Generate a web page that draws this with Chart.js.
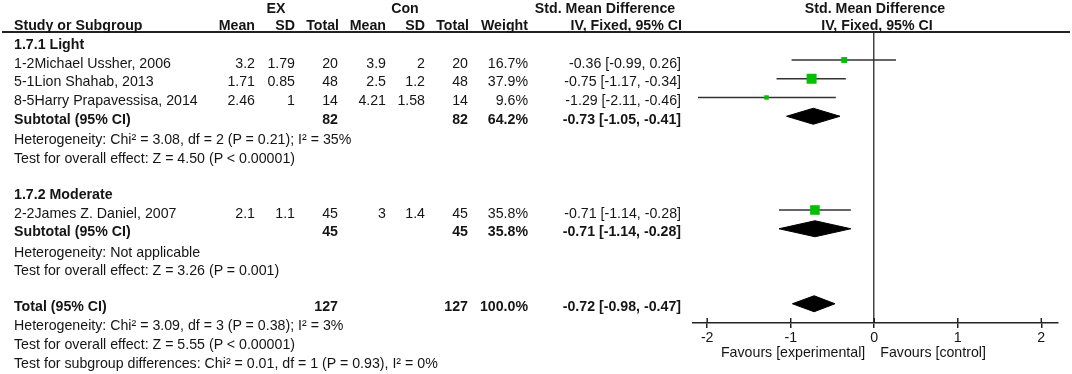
<!DOCTYPE html>
<html>
<head>
<meta charset="utf-8">
<script src="https://cdn.jsdelivr.net/npm/chart.js@4.4.1/dist/chart.umd.min.js"></script>
<style>
body { margin: 0; background: #fff; }
#wrap { position: relative; width: 1072px; height: 374px; font-family: "Liberation Sans", Arial, sans-serif; font-size: 14.2px; color: #151515; }
#wrap canvas { position: absolute; left: 0; top: 0; }
.t { position: absolute; white-space: nowrap; line-height: 16px; }
.b { font-weight: bold; }
#hline { position: absolute; left: 2px; top: 31px; width: 1068px; height: 2px; background: #222; }
</style>
</head>
<body>
<div id="wrap">
  <canvas id="forest" width="1072" height="374"></canvas>
  <div id="hline"></div>
</div>
<script>
// --- Data ---
const subgroups = ['1.7.1 Light', '1.7.2 Moderate'];
const studies = ['1-2Michael Ussher, 2006', '5-1Lion Shahab, 2013', '8-5Harry Prapavessisa, 2014', '2-2James Z. Daniel, 2007'];
const studyGroup = [0, 0, 0, 1];
const exMean = [3.2, 1.71, 2.46, 2.1];
const exSD = [1.79, 0.85, 1, 1.1];
const exN = [20, 48, 14, 45];
const conMean = [3.9, 2.5, 4.21, 3];
const conSD = [2, 1.2, 1.58, 1.4];
const conN = [20, 48, 14, 45];
const weight = [16.7, 37.9, 9.6, 35.8];
const smd = [-0.36, -0.75, -1.29, -0.71];
const ciLo = [-0.99, -1.17, -2.11, -1.14];
const ciHi = [0.26, -0.34, -0.46, -0.28];

// subtotals per subgroup
const subExN = [82, 45];
const subConN = [82, 45];
const subWeight = [64.2, 35.8];
const subSmd = [-0.73, -0.71];
const subLo = [-1.05, -1.14];
const subHi = [-0.41, -0.28];
const subHet = ['Heterogeneity: Chi² = 3.08, df = 2 (P = 0.21); I² = 35%', 'Heterogeneity: Not applicable'];
const subTest = ['Test for overall effect: Z = 4.50 (P < 0.00001)', 'Test for overall effect: Z = 3.26 (P = 0.001)'];

// overall
const totalExN = 127;
const totalConN = 127;
const totalWeight = 100.0;
const totalSmd = -0.72;
const totalLo = -0.98;
const totalHi = -0.47;
const totalNotes = [
  'Heterogeneity: Chi² = 3.09, df = 3 (P = 0.38); I² = 3%',
  'Test for overall effect: Z = 5.55 (P < 0.00001)',
  'Test for subgroup differences: Chi² = 0.01, df = 1 (P = 0.93), I² = 0%'
];

const xTicks = [-2, -1, 0, 1, 2];
const favourLabels = ['Favours [experimental]', 'Favours [control]'];

// --- Layout ---
const W = 1072;
const ROW0 = 41.25;   // pixel of row 0
const ROW_H = 18.75;  // row height
const PLOT_TOP = 32, PLOT_BOTTOM = 323;
const DIAMOND_H = 8 / ROW_H;
const colRight = { exMean: 255, exSD: 295, exN: 338, conMean: 386, conSD: 425, conN: 468, weight: 528, ci: 681 };

const wrap = document.getElementById('wrap');

function addText(txt, x, y, align, bold) {
  const d = document.createElement('div');
  d.className = 't' + (bold ? ' b' : '');
  d.textContent = txt;
  d.style.top = (y - 8) + 'px';
  if (align === 'right') {
    d.style.right = (W - x) + 'px';
  } else if (align === 'center') {
    d.style.left = (x - 150) + 'px';
    d.style.width = '300px';
    d.style.textAlign = 'center';
  } else {
    d.style.left = x + 'px';
  }
  wrap.appendChild(d);
}

const ciText = (e, l, h) => `${e.toFixed(2)} [${l.toFixed(2)}, ${h.toFixed(2)}]`;
const textY = k => ROW0 + ROW_H * k + 2.5;

// headers
addText('EX', 276, 8, 'center', true);
addText('Con', 405, 8, 'center', true);
addText('Std. Mean Difference', 605, 8, 'center', true);
addText('Std. Mean Difference', 875, 8, 'center', true);
addText('Study or Subgroup', 14, 25, 'left', true);
[['Mean', 255], ['SD', 295], ['Total', 339], ['Mean', 386], ['SD', 425], ['Total', 469], ['Weight', 528], ['IV, Fixed, 95% CI', 682]]
  .forEach(h => addText(h[0], h[1], 25, 'right', true));
addText('IV, Fixed, 95% CI', 877, 25, 'center', true);

// table rows
const studyRow = [];
const subRow = [];
let k = 0;
subgroups.forEach((name, g) => {
  addText(name, 14, textY(k), 'left', true);
  k++;
  studies.forEach((s, i) => {
    if (studyGroup[i] !== g) return;
    studyRow[i] = k;
    const y = textY(k);
    addText(s, 14, y, 'left', false);
    addText(String(exMean[i]), colRight.exMean, y, 'right');
    addText(String(exSD[i]), colRight.exSD, y, 'right');
    addText(String(exN[i]), colRight.exN, y, 'right');
    addText(String(conMean[i]), colRight.conMean, y, 'right');
    addText(String(conSD[i]), colRight.conSD, y, 'right');
    addText(String(conN[i]), colRight.conN, y, 'right');
    addText(weight[i].toFixed(1) + '%', colRight.weight, y, 'right');
    addText(ciText(smd[i], ciLo[i], ciHi[i]), colRight.ci, y, 'right');
    k++;
  });
  subRow[g] = k;
  let y = textY(k);
  addText('Subtotal (95% CI)', 14, y, 'left', true);
  addText(String(subExN[g]), colRight.exN, y, 'right', true);
  addText(String(subConN[g]), colRight.conN, y, 'right', true);
  addText(subWeight[g].toFixed(1) + '%', colRight.weight, y, 'right', true);
  addText(ciText(subSmd[g], subLo[g], subHi[g]), colRight.ci, y, 'right', true);
  k++;
  addText(subHet[g], 14, textY(k) + 1.5, 'left'); k++;
  addText(subTest[g], 14, textY(k) + 1.5, 'left'); k++;
  k++; // blank row
});
const totalRow = k;
let ty = textY(k);
addText('Total (95% CI)', 14, ty, 'left', true);
addText(String(totalExN), colRight.exN, ty, 'right', true);
addText(String(totalConN), colRight.conN, ty, 'right', true);
addText(totalWeight.toFixed(1) + '%', colRight.weight, ty, 'right', true);
addText(ciText(totalSmd, totalLo, totalHi), colRight.ci, ty, 'right', true);
k++;
totalNotes.forEach(n => { addText(n, 14, textY(k), 'left'); k++; });

// --- Chart ---
function diamond(e, l, h, row) {
  return [{ x: l, y: row }, { x: e, y: row - DIAMOND_H }, { x: h, y: row }, { x: e, y: row + DIAMOND_H }, { x: l, y: row }];
}

const datasets = [];
// squares (weight)
datasets.push({
  data: studies.map((s, i) => ({ x: smd[i], y: studyRow[i] })),
  showLine: false,
  pointStyle: 'rect',
  pointRadius: weight.map(w => (2.6 + 0.195 * w) / Math.SQRT2),
  pointBackgroundColor: '#00c000',
  pointBorderWidth: 0,
  order: 0
});
// CI lines
studies.forEach((s, i) => {
  datasets.push({
    data: [{ x: ciLo[i], y: studyRow[i] }, { x: ciHi[i], y: studyRow[i] }],
    borderColor: '#333',
    borderWidth: 1.5,
    pointRadius: 0,
    order: 1
  });
});
// diamonds
const diamonds = subgroups.map((g, j) => diamond(subSmd[j], subLo[j], subHi[j], subRow[j]));
diamonds.push(diamond(totalSmd, totalLo, totalHi, totalRow));
diamonds.forEach(d => {
  datasets.push({
    data: d,
    fill: 'shape',
    backgroundColor: '#000',
    borderColor: '#000',
    borderWidth: 1,
    pointRadius: 0,
    order: 1
  });
});

const extras = {
  id: 'extras',
  afterDraw(chart) {
    const { ctx, chartArea, scales: { x } } = chart;
    ctx.save();
    ctx.strokeStyle = '#222';
    ctx.lineWidth = 1.5;
    xTicks.forEach(v => {
      const px = x.getPixelForValue(v);
      ctx.beginPath();
      ctx.moveTo(px, chartArea.bottom - 5);
      ctx.lineTo(px, chartArea.bottom);
      ctx.stroke();
    });
    ctx.fillStyle = '#151515';
    ctx.font = '14.2px "Liberation Sans", Arial, sans-serif';
    ctx.textBaseline = 'middle';
    const x0 = x.getPixelForValue(0);
    ctx.textAlign = 'right';
    ctx.fillText(favourLabels[0], x0 - 9, 353);
    ctx.textAlign = 'left';
    ctx.fillText(favourLabels[1], x0 + 6, 353);
    ctx.restore();
  }
};

Chart.defaults.font.family = '"Liberation Sans", Arial, sans-serif';

new Chart(document.getElementById('forest'), {
  type: 'line',
  data: { datasets: datasets },
  options: {
    responsive: false,
    animation: false,
    layout: { padding: { left: 693, right: 14, top: PLOT_TOP, bottom: 0 } },
    plugins: { legend: { display: false }, tooltip: { enabled: false } },
    scales: {
      x: {
        type: 'linear',
        min: -2.17,
        max: 2.2,
        afterBuildTicks: s => { s.ticks = xTicks.map(v => ({ value: v })); },
        afterFit: s => { s.height = 374 - PLOT_BOTTOM; },
        ticks: { autoSkip: false, maxRotation: 0, padding: 2, color: '#151515', font: { size: 14.2 }, callback: v => String(v) },
        grid: {
          drawOnChartArea: true,
          color: c => (c.tick && c.tick.value === 0) ? '#444' : 'rgba(0,0,0,0)',
          lineWidth: 1.5,
          tickLength: 5,
          tickColor: '#222'
        },
        border: { display: true, color: '#222', width: 1.5 }
      },
      y: {
        type: 'linear',
        display: false,
        reverse: true,
        min: (PLOT_TOP - ROW0) / ROW_H,
        max: (PLOT_BOTTOM - ROW0) / ROW_H
      }
    }
  },
  plugins: [extras]
});
</script>
</body>
</html>
